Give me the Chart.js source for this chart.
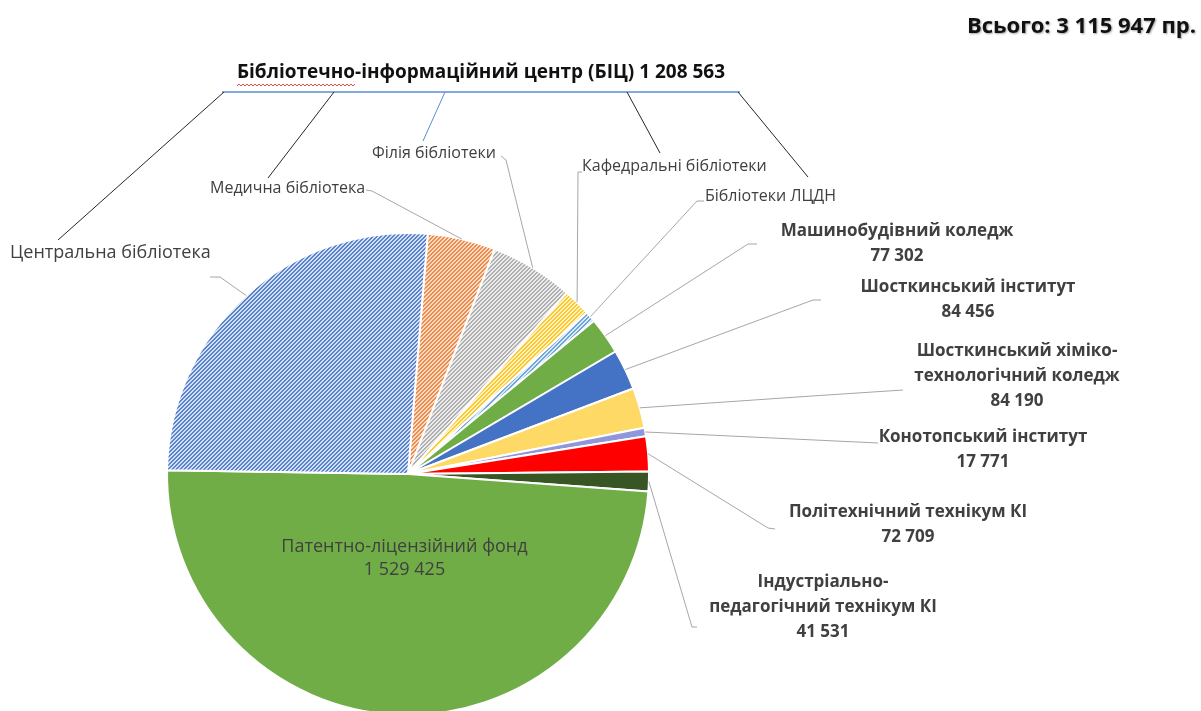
<!DOCTYPE html>
<html lang="uk">
<head>
<meta charset="utf-8">
<title>Фонд бібліотеки</title>
<script src="https://cdn.jsdelivr.net/npm/chart.js@4.4.1/dist/chart.umd.min.js"></script>
<style>
  html, body { margin: 0; padding: 0; background: #fff; overflow: hidden; }
  #wrap { width: 1201px; height: 711px; overflow: hidden; }
  canvas { display: block; }
</style>
</head>
<body>
<div id="wrap"><canvas id="fund" width="1201" height="740"></canvas></div>
<script>
// slices go clockwise from the top
const categories = [
  'Медична бібліотека',
  'Філія бібліотеки',
  'Кафедральні бібліотеки',
  'Бібліотеки ЛЦДН',
  'Машинобудівний коледж',
  'Шосткинський інститут',
  'Шосткинський хіміко-\nтехнологічний коледж',
  'Конотопський інститут',
  'Політехнічний технікум КІ',
  'Індустріально-\nпедагогічний технікум КІ',
  'Патентно-ліцензійний фонд',
  'Центральна бібліотека'
];
const values = [142000, 174000, 58000, 22563, 77302, 84456, 84190, 17771, 72709, 41531, 1529425, 812000];
const inBic = [true, true, true, true, false, false, false, false, false, false, false, true];

const bicName = 'Бібліотечно-інформаційний центр (БІЦ)';
const totalName = 'Всього:';
const totalUnit = 'пр.';

const FONT = '"Open Sans", "Noto Sans", sans-serif';
const TEXT = '#404040';
const LEADER = '#a6a6a6';

const hatch = (line, back) => {
  const size = 4;
  const tile = document.createElement('canvas');
  tile.width = tile.height = size;
  const c = tile.getContext('2d');
  c.fillStyle = back;
  c.fillRect(0, 0, size, size);
  c.fillStyle = line;
  for (let x = 0; x < size; x++) {
    for (let y = 0; y < size; y++) {
      if ((x + y) % size < 2) c.fillRect(x, y, 1, 1);
    }
  }
  return c.createPattern(tile, 'repeat');
};

const fills = [
  hatch('#ee8a4a', '#fbdcc6'),
  hatch('#b0b0b0', '#ececec'),
  hatch('#ffc829', '#fff2c8'),
  hatch('#6fa6da', '#dcebf8'),
  '#70ad47',
  '#4472c4',
  '#ffd966',
  '#8e97d9',
  '#ff0000',
  '#375623',
  '#70ad47',
  hatch('#5a83cd', '#d3dff3')
];

// label placement: x (left or centre), y of first line, font size, elbow points near the text
const labelLayout = [
  { x: 210, y: 188, size: 16, align: 'left', lead: [[366, 190], [372, 191]] },
  { x: 372, y: 153, size: 16, align: 'left', lead: [[501, 156], [506, 160]] },
  { x: 582, y: 166, size: 16, align: 'left', lead: [[582, 172], [578, 172]] },
  { x: 705, y: 196, size: 16, align: 'left', lead: [[704, 201], [697, 201]] },
  { x: 897, y: 231, size: 17, align: 'center', bold: true, lead: [[757, 244], [748, 244]] },
  { x: 968, y: 287, size: 17, align: 'center', bold: true, lead: [[821, 300], [813, 300]] },
  { x: 1017, y: 351, size: 17, align: 'center', bold: true, lead: [[903, 390], [812, 396]] },
  { x: 983, y: 437, size: 17, align: 'center', bold: true, lead: [[878, 443]] },
  { x: 908, y: 512, size: 17, align: 'center', bold: true, lead: [[775, 529], [768, 528]] },
  { x: 823, y: 582, size: 17, align: 'center', bold: true, lead: [[697, 627], [692, 627]] },
  { inside: 0.33, size: 18 },
  { x: 10, y: 253, size: 18, align: 'left', lead: [[210, 277], [220, 277]] }
];

// bracket from the BIC title down to its parts
const bicBar = { y: 92, x0: 222, x1: 740 };
const bicLinks = [
  { from: 224, to: [58, 240], color: '#262626' },
  { from: 334, to: [268, 178], color: '#262626' },
  { from: 445, to: [423, 141], color: '#5b8bd6' },
  { from: 627, to: [660, 153], color: '#262626' },
  { from: 738, to: [808, 177], color: '#262626' }
];

const fmt = (v) => String(v).replace(/\B(?=(\d{3})+(?!\d))/g, ' ');

const labelsPlugin = {
  id: 'fundLabels',
  afterDraw(chart) {
    const { ctx } = chart;
    const arcs = chart.getDatasetMeta(0).data;
    ctx.save();
    ctx.textBaseline = 'middle';

    // leader lines
    ctx.strokeStyle = LEADER;
    ctx.lineWidth = 1;
    labelLayout.forEach((lay, i) => {
      if (!lay.lead) return;
      const a = arcs[i].getProps(['x', 'y', 'startAngle', 'endAngle', 'outerRadius'], true);
      const mid = (a.startAngle + a.endAngle) / 2;
      ctx.beginPath();
      lay.lead.forEach(([x, y], k) => (k ? ctx.lineTo(x, y) : ctx.moveTo(x, y)));
      ctx.lineTo(a.x + Math.cos(mid) * a.outerRadius, a.y + Math.sin(mid) * a.outerRadius);
      ctx.stroke();
    });

    // slice labels
    labelLayout.forEach((lay, i) => {
      ctx.fillStyle = TEXT;
      if (lay.inside) {
        const a = arcs[i].getProps(['x', 'y', 'startAngle', 'endAngle', 'outerRadius'], true);
        const mid = (a.startAngle + a.endAngle) / 2;
        const cx = a.x + Math.cos(mid) * a.outerRadius * lay.inside;
        const cy = a.y + Math.sin(mid) * a.outerRadius * lay.inside;
        ctx.font = `${lay.size}px ${FONT}`;
        ctx.textAlign = 'center';
        ctx.fillText(categories[i], cx, cy - 7);
        ctx.fillText(fmt(values[i]), cx, cy + 16);
        return;
      }
      const lines = categories[i].split('\n');
      if (lay.bold) lines.push(fmt(values[i]));
      ctx.font = `${lay.bold ? 'bold ' : ''}${lay.size}px ${FONT}`;
      ctx.textAlign = lay.align;
      lines.forEach((t, k) => ctx.fillText(t, lay.x, lay.y + k * 25));
    });

    // BIC title and bracket
    const bicTotal = values.reduce((s, v, i) => (inBic[i] ? s + v : s), 0);
    const title = `${bicName} ${fmt(bicTotal)}`;
    ctx.font = `bold 19px ${FONT}`;
    ctx.fillStyle = '#111';
    ctx.textAlign = 'center';
    ctx.fillText(title, 481, 73);
    const left = 481 - ctx.measureText(title).width / 2;
    const wordW = ctx.measureText(bicName.split('-')[0]).width;
    ctx.strokeStyle = '#e0443a';
    ctx.lineWidth = 1;
    ctx.beginPath();
    for (let x = left; x <= left + wordW; x += 2) {
      const y = 85 + ((Math.round((x - left) / 2) % 2) ? -1 : 1);
      x === left ? ctx.moveTo(x, y) : ctx.lineTo(x, y);
    }
    ctx.stroke();

    ctx.strokeStyle = '#5b8bd6';
    ctx.lineWidth = 1.5;
    ctx.beginPath();
    ctx.moveTo(bicBar.x0, bicBar.y);
    ctx.lineTo(bicBar.x1, bicBar.y);
    ctx.stroke();
    ctx.lineWidth = 1;
    bicLinks.forEach((l) => {
      ctx.strokeStyle = l.color;
      ctx.beginPath();
      ctx.moveTo(l.from, bicBar.y);
      ctx.lineTo(l.to[0], l.to[1]);
      ctx.stroke();
    });

    // grand total
    const total = values.reduce((s, v) => s + v, 0);
    ctx.font = `bold 22px ${FONT}`;
    ctx.textAlign = 'right';
    ctx.fillStyle = '#111';
    ctx.shadowColor = 'rgba(0,0,0,0.35)';
    ctx.shadowBlur = 2;
    ctx.shadowOffsetX = 1;
    ctx.shadowOffsetY = 1;
    ctx.fillText(`${totalName} ${fmt(total)} ${totalUnit}`, 1196, 27);
    ctx.restore();
  }
};

new Chart(document.getElementById('fund'), {
  type: 'pie',
  data: {
    labels: categories,
    datasets: [{
      data: values,
      backgroundColor: fills,
      borderColor: '#ffffff',
      borderWidth: 2
    }]
  },
  options: {
    responsive: false,
    animation: false,
    devicePixelRatio: 1,
    rotation: 4.7,
    layout: { padding: { left: 166, right: 551, top: 232, bottom: 24 } },
    plugins: {
      legend: { display: false },
      tooltip: { enabled: false }
    }
  },
  plugins: [labelsPlugin]
});
</script>
</body>
</html>
